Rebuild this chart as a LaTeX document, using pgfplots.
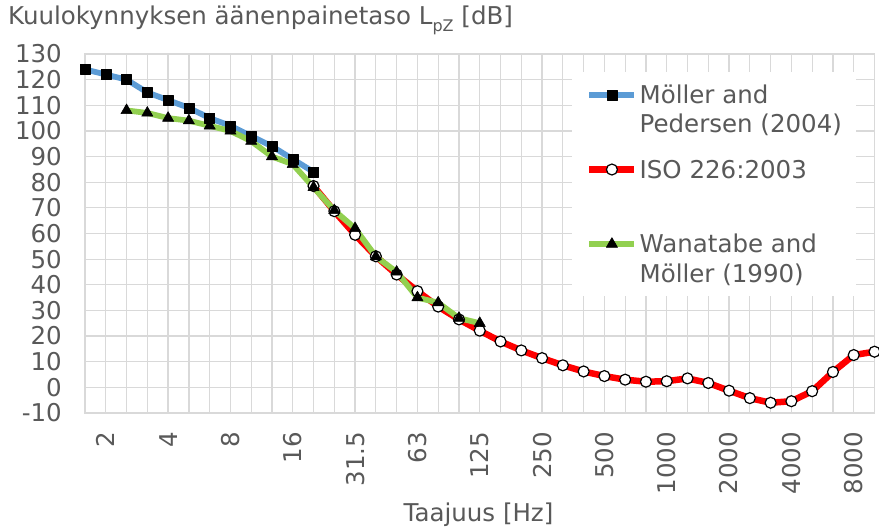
\documentclass[border=0pt]{standalone}
\usepackage{fontspec}
\setmainfont{DejaVu Sans}
\usepackage{pgfplots}
\pgfplotsset{compat=1.18}
\definecolor{txt}{HTML}{595959}
\definecolor{gridc}{HTML}{D9D9D9}
\definecolor{cblue}{HTML}{5B9BD5}
\definecolor{cred}{HTML}{FF0000}
\definecolor{cgreen}{HTML}{92D050}
\newcommand{\chartfont}{\fontsize{24.5bp}{29.5bp}\selectfont}
\begin{document}
\chartfont
\begin{tikzpicture}[font=\chartfont]
\begin{axis}[
  at={(0bp,0bp)}, anchor=south west,
  scale only axis, width=789.5bp, height=359bp,
  xmin=0, xmax=38, ymin=-10, ymax=130,
  ytick={-10,0,...,130},
  xtick={0,...,38},
  xticklabels={,2,,,4,,,8,,,16,,,31.5,,,63,,,125,,,250,,,500,,,1000,,,2000,,,4000,,,8000,},
  xmajorgrids, ymajorgrids,
  grid style={gridc, line width=1.25bp},
  axis line style={gridc, line width=1.25bp},
  major tick length=0pt, minor tick length=0pt,
  tick style={draw=none},
  /pgf/number format/assume math mode=true,
  ticklabel style={text=txt, font=\chartfont},
  yticklabel style={anchor=east, inner xsep=23bp, inner ysep=0pt},
  xticklabel style={rotate=90, anchor=east, inner xsep=18.7bp, inner ysep=0pt},
  clip=false,
  legend cell align=left,
  legend style={at={(0.6168,0.9499)}, anchor=north west, draw=none, fill=white,
    inner xsep=14bp, inner ysep=10.65bp, row sep=20.7bp, column sep=2bp,
    nodes={inner sep=0pt, text=txt, align=left, font=\chartfont}},
  legend image code/.code={\draw[yshift=14.75bp, mark repeat=2, mark phase=2, #1] plot coordinates {(0bp,0bp) (22.5bp,0bp) (45bp,0bp)};},
]
\addplot[cblue, line width=5.75bp, line join=round, mark=square*, mark size=5bp,
  mark options={draw=black, fill=black, line width=0.5bp}] coordinates {
  (0,124) (1,122) (2,120) (3,115) (4,112) (5,109) (6,105) (7,102) (8,98) (9,94) (10,89) (11,84)};
\addlegendentry{\strut M\"oller and\\Pedersen (2004)\strut}
\addplot[cred, line width=6.5bp, line join=round, mark=*, mark size=5.5bp,
  mark options={draw=black, fill=white, line width=1.2bp}] coordinates {
  (11,78.5) (12,68.7) (13,59.5) (14,51.1) (15,44.0) (16,37.5) (17,31.5) (18,26.5) (19,22.1)
  (20,17.9) (21,14.4) (22,11.4) (23,8.6) (24,6.2) (25,4.4) (26,3.0) (27,2.2) (28,2.4)
  (29,3.5) (30,1.7) (31,-1.3) (32,-4.2) (33,-6.0) (34,-5.4) (35,-1.5) (36,6.0) (37,12.6) (38,13.9)};
\addlegendentry{\strut ISO 226:2003\\\strut}
\addplot[cgreen, line width=5.75bp, line join=round, mark=triangle*, mark size=6.5bp,
  mark options={draw=black, fill=black, line width=0.5bp}] coordinates {
  (2,108) (3,107) (4,105) (5,104) (6,102) (7,100) (8,96) (9,90) (10,87) (11,78)
  (12,69) (13,62) (14,51) (15,45) (16,35) (17,33) (18,27) (19,25)};
\addlegendentry{\strut Wanatabe and\\M\"oller (1990)\strut}
\end{axis}
\node[anchor=base west, inner sep=0pt, text=txt] at (-77bp,388bp)
  {Kuulokynnyksen äänenpainetaso L\raisebox{-0.25em}{\fontsize{16bp}{16bp}\selectfont pZ} [dB]};
\node[anchor=base, inner sep=0pt, text=txt] at (393.5bp,-108.7bp) {Taajuus [Hz]};
\pgfresetboundingbox
\path[use as bounding box] (-85bp,-119bp) rectangle (794bp,413bp);
\end{tikzpicture}
\end{document}
